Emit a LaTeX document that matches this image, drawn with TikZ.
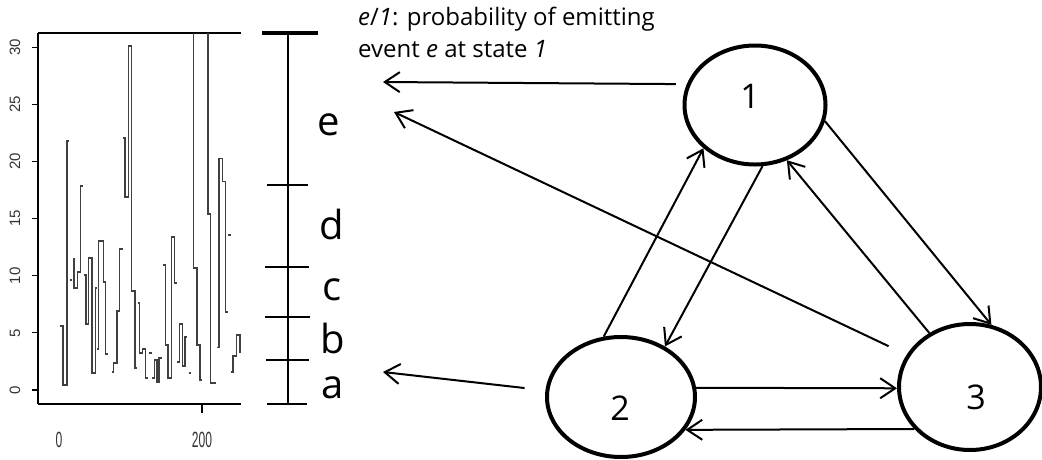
\documentclass[tikz,border=0pt]{standalone}
\usepackage{fontspec}
\setmainfont{Open Sans}
\newfontfamily\axisfont{Liberation Sans}
\usetikzlibrary{arrows.meta,shapes.geometric}

\begin{document}
\begin{tikzpicture}[x=1pt,y=-1pt,
   state/.style={ellipse,draw,line width=4pt,inner sep=0pt},
   every label/.style={font=\fontsize{34}{34}\selectfont,inner sep=0pt},
   link/.style={line width=2pt,-{Straight Barb[length=15pt,width=20pt]}},
   emit/.style={link,shorten <=#1},
   datln/.style={line width=1.2pt,black!75},
   frm/.style={line width=2.5pt},
   bar/.style={line width=2.8pt},
   evt/.style={font=\fontsize{40}{40}\selectfont,inner sep=0pt},
   ytick/.style={font=\axisfont\fontsize{15}{15}\selectfont,rotate=90,
              text=black!80,inner sep=0pt},
   xtick/.style={font=\axisfont\fontsize{22}{22}\selectfont,text=black!80,
              inner sep=0pt},
   notetext/.style={font=\fontsize{24}{32}\selectfont,align=left,inner sep=0pt},
]
\useasboundingbox (0,0) rectangle (1042,459);

% the observed series
\draw[frm] (38,33) -- (241,33);
\draw[frm] (38,404) -- (241,404);
\draw[line width=1.3pt] (38,33) -- (38,404);
\draw[line width=1.3pt] (202,404) -- (202,413);
\foreach \v [evaluate=\v as \yy using 390-11.43*\v] in {0,5,...,30} {
  \draw[line width=1.2pt] (32,\yy) -- (38,\yy);
  \node[ytick] (yt\v) at (15,\yy) {\v};
}
\node[xtick] (xt0) at (59,440) {\scalebox{0.55}[1]{0}};
\node[xtick] (xt200) at (202,440) {\scalebox{0.55}[1]{200}};

\draw[datln] (60,326) -| (63,385) -| (67,141) -- (69,141);
\draw[datln] (72.5,259) -| (74,288) -| (77.5,272) -| (80.5,186) -- (82.5,186);
\draw[datln] (83.5,275) -| (86,324) -| (88.3,258) -| (92,373) -| (95.3,288) -- (97.3,288);
\draw[datln] (97.3,349) -| (98.3,241) -| (103.3,282) -| (105.8,354) -- (108.3,354);
\draw[datln] (111.5,372) -| (113.7,363) -| (117,311) -| (119.2,249) -- (122.5,249);
\draw[datln] (123.3,138) -| (125,197) -| (128.3,46) -| (131.7,291) -| (135,368) -- (136.8,368);
\draw[datln] (137.5,303) -| (139.5,353) -| (142.2,349) -| (145.3,378) -- (148,378);
\draw[datln] (152,378) -| (154.5,360) -| (157,382) -| (159,358) -- (161.5,358);
\draw[datln] (162.5,265) -| (165.3,345) -| (168,378) -| (171.3,237) -| (174.7,283) -- (176.7,283);
\draw[datln] (177.3,362) -| (179.7,324) -| (182.5,366) -| (185,337) -- (187.3,337);
\draw[datln] (193.7,33) |- (197,268) |- (200,345) |- (202.3,380);
\draw[datln] (208,33) |- (210.7,214) |- (216,383);
\draw[datln] (217.3,347.5) -| (219,158.3) -| (222.3,181.7) -| (225.3,312) -- (227.5,312);
\draw[datln] (231.3,372) -| (233,356) -| (236.7,335) -| (240,352) -- (241,352);
\draw[datln] (69.5,280) -- (71.5,280) (148.5,353) -- (151.5,353)
             (188.5,373) -- (190.7,373) (228,235) -- (230.7,235);

% binning scale
\draw[bar] (288,33) -- (288,404);
\draw[line width=4.5pt] (262,33) -- (318,33);
\draw[bar] (267,185) -- (308,185) (265,267) -- (309,267) (265,317) -- (310,317)
           (266,360) -- (309,360) (267,404) -- (307,404);
\node[evt] (be) at (329,125) {e};
\node[evt] (bd) at (332,224) {d};
\node[evt] (bc) at (332,290) {c};
\node[evt] (bb) at (333,338) {b};
\node[evt] (ba) at (333,388) {a};

\node[notetext,anchor=north west] (note) at (358,7)
   {\textit{e}/\textit{1}: probability of emitting\\event \textit{e} at state \textit{1}};

% states
\node[state,minimum width=141pt,minimum height=119pt,
      label={[shift={(-5,-9)}]center:1}] (n1) at (755,105) {};
\node[state,minimum width=148pt,minimum height=120pt,
      label={[shift={(-1,11)}]center:2}] (n2) at (621,397) {};
\node[state,minimum width=142pt,minimum height=126pt,
      label={[shift={(6,10)}]center:3}] (n3) at (970,387) {};

\coordinate (ev1) at (383,82);
\coordinate (ev2) at (394,112);
\coordinate (ev3) at (383,372);

\draw[emit=11pt] (n1.163) -- (ev1);
\draw[emit=20pt] (n3.153) -- (ev2);
\draw[emit=21pt] (n2.175) -- (ev3);

\draw[link] (n2.106) -- (n1.220);
\draw[link] (n1.277) -- (n2.49);
\draw[link] (n1.347) -- (n3.71);
\draw[link] (n3.127) -- (n1.300);
\draw[link] (n2.7) -- (n3.181);
\draw[link] (n3.217) -- (n2.333);
\end{tikzpicture}
\end{document}
